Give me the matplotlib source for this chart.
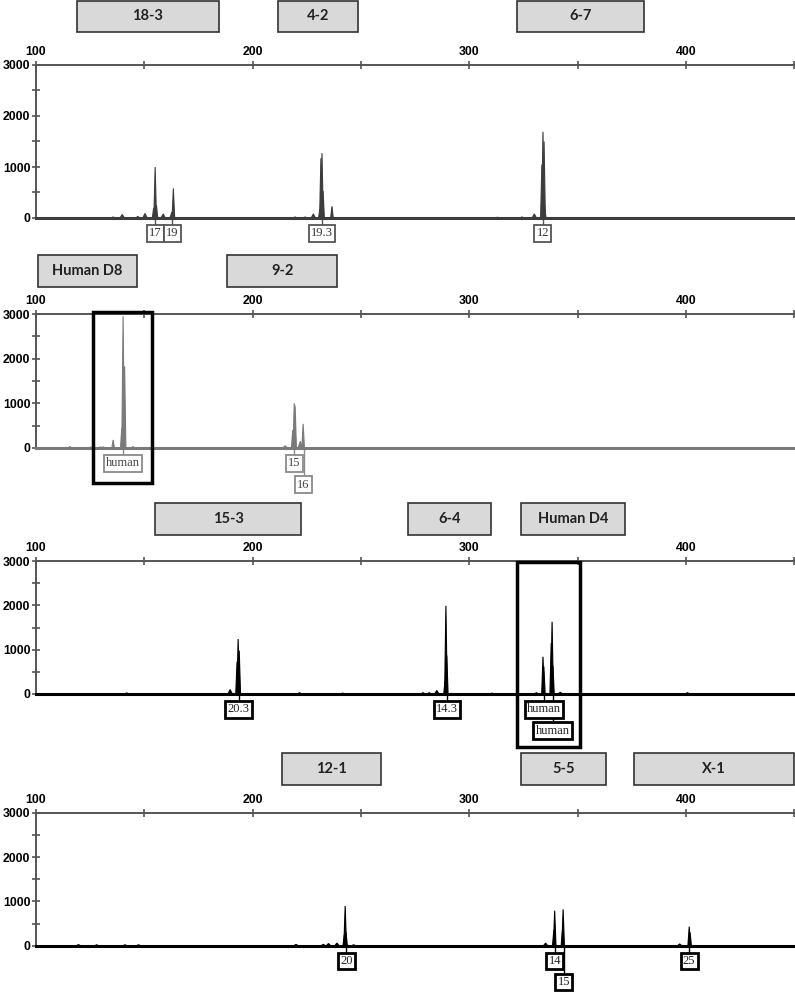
import matplotlib
matplotlib.use('Agg')
import matplotlib.pyplot as plt
import matplotlib.patches as patches
import matplotlib.transforms as mtransforms

plt.rcParams['font.family'] = ['Liberation Sans', 'DejaVu Sans']

# ---- data (size in bp, height in RFU) ----
# panel 1
p1_pos = [135.6, 139.8, 147.0, 150.3, 154.3, 155.0, 155.6, 158.7, 162.8, 163.4,
          219.6, 224.2, 228.0, 231.0, 231.5, 232.0, 232.5, 236.6,
          313.0, 324.3, 330.0, 333.5, 334.0, 334.5, 334.8]
p1_h = [20, 70, 30, 90, 200, 1000, 250, 80, 120, 580,
        20, 20, 80, 170, 1170, 1270, 530, 230,
        15, 20, 80, 1050, 1690, 1500, 220]
# panel 2
p2_pos = [115.7, 125.3, 129.6, 131.0, 135.6, 139.6, 140.2, 140.9, 144.7,
          215.0, 218.5, 219.2, 219.6, 222.0, 223.3]
p2_h = [30, 20, 25, 25, 180, 450, 2950, 1830, 30,
        50, 400, 1000, 950, 150, 540]
# panel 3
p3_pos = [141.9, 189.6, 192.8, 193.3, 193.8, 221.6, 241.6,
          278.6, 281.5, 285.0, 288.8, 289.2, 289.6, 310.5,
          331.0, 334.0, 334.4, 337.8, 338.2, 338.6, 342.0, 400.7]
p3_h = [25, 100, 730, 1240, 980, 30, 20,
        30, 30, 80, 300, 1990, 870, 20,
        30, 840, 620, 1150, 1630, 640, 40, 30]
# panel 4
p4_pos = [119.6, 128.0, 141.1, 147.3, 220.0, 232.6, 235.0, 238.9, 242.3, 242.7, 243.1, 246.6,
          335.2, 339.0, 339.4, 343.0, 343.3, 397.1, 401.5, 401.9]
p4_h = [25, 20, 20, 20, 30, 30, 50, 60, 250, 895, 300, 20,
        60, 350, 790, 350, 820, 40, 430, 300]

# locus bins (name, start bp, end bp)
p1_loci = [('18-3', 118.9, 184.5), ('4-2', 211.8, 248.8), ('6-7', 322.2, 380.4)]
p2_loci = [('Human D8', 100.9, 146.6), ('9-2', 188.2, 239.0)]
p3_loci = [('15-3', 155.0, 222.4), ('6-4', 271.8, 310.2), ('Human D4', 324.0, 372.0)]
p4_loci = [('12-1', 213.6, 259.4), ('5-5', 324.0, 363.3), ('X-1', 375.8, 449.7)]

# allele calls (label, bp, row)
p1_calls = [('17', 155.0, 0), ('19', 163.0, 0), ('19.3', 232.0, 0), ('12', 334.0, 0)]
p2_calls = [('human', 140.2, 0), ('15', 219.1, 0), ('16', 223.5, 1)]
p3_calls = [('20.3', 193.5, 0), ('14.3', 289.7, 0), ('human', 334.5, 0), ('human', 338.4, 1)]
p4_calls = [('20', 243.3, 0), ('14', 339.5, 0), ('15', 343.6, 1), ('25', 401.4, 0)]

W, H = 795, 992
fig = plt.figure(figsize=(W / 100, H / 100), dpi=100)

X0, X1 = 36, 794.3  # pixel x of 100 and 450 bp

# panel layout: (top px, zero px, locus box top, locus box bottom)
panels = [
    (p1_pos, p1_h, p1_loci, p1_calls, 65, 218, 1, 32, '#3c3c3c', '#555555', '#333333', 1.3),
    (p2_pos, p2_h, p2_loci, p2_calls, 314, 448, 255, 287, '#7a7a7a', '#8a8a8a', '#444444', 1.3),
    (p3_pos, p3_h, p3_loci, p3_calls, 561, 694, 503, 535, '#000000', '#000000', '#222222', 2.0),
    (p4_pos, p4_h, p4_loci, p4_calls, 812.7, 945.7, 753, 785, '#000000', '#000000', '#222222', 2.0),
]

for pos, hts, loci, calls, top, zero, lb_top, lb_bot, col, ecol, tcol, elw in panels:
    ax = fig.add_axes([X0 / W, 1 - zero / H, (X1 - X0) / W, (zero - top) / H])
    ax.set_xlim(100, 450)
    ax.set_ylim(0, 3000)
    for s in ['right', 'bottom']:
        ax.spines[s].set_visible(False)
    for s in ['top', 'left']:
        ax.spines[s].set_color('#555555')
        ax.spines[s].set_linewidth(1.4)
    ax.xaxis.tick_top()
    ax.set_xticks([100, 200, 300, 400])
    ax.set_xticks([150, 250, 350, 450], minor=True)
    ax.set_yticks([0, 1000, 2000, 3000])
    ax.set_yticks([500, 1500, 2500], minor=True)
    ax.tick_params(which='both', direction='inout', length=6, width=1.2, color='#555555')
    ax.tick_params(axis='x', labelsize=8.8, pad=2)
    ax.tick_params(axis='y', labelsize=8.8, pad=1)
    for lab in ax.get_xticklabels() + ax.get_yticklabels():
        lab.set_fontweight('bold')

    # trace: baseline + peaks
    ax.axhline(0, color=col, lw=2.2, zorder=3, clip_on=False)
    for p, h in zip(pos, hts):
        hw = 0.6 if h > 150 else 1.0
        ax.fill([p - hw, p, p + hw], [0, h, 0], color=col, lw=0.8, ec=col,
                zorder=4, clip_on=False)

    # blended transform: x in bp, y in figure pixels
    tr = mtransforms.blended_transform_factory(ax.transData, fig.transFigure)

    def fy(py):
        return 1 - py / H

    for name, a, b in loci:
        r = patches.Rectangle((a, fy(lb_bot)), b - a, (lb_bot - lb_top) / H,
                              transform=tr, fc='#d9d9d9', ec='#333333', lw=1.2,
                              clip_on=False, zorder=5)
        ax.add_patch(r)
        ax.text((a + b) / 2, fy((lb_top + lb_bot) / 2), name, transform=tr,
                ha='center', va='center', fontsize=10.5, fontweight='bold',
                family=['Lato', 'DejaVu Sans'], color='#222222', zorder=6, clip_on=False)

    for lab, x, row in calls:
        yc = zero + 15.5 + row * 21
        ax.plot([x, x], [fy(zero), fy(yc - 9)], transform=tr, color=ecol, lw=1,
                clip_on=False, zorder=2)
        ax.text(x, fy(yc), lab, transform=tr, ha='center', va='center',
                fontsize=9, family=['Liberation Serif', 'DejaVu Serif'], color=tcol,
                zorder=7 + row, clip_on=False,
                bbox=dict(boxstyle='square,pad=0.18', fc='white', ec=ecol, lw=elw))

# highlight boxes around the human loci (figure pixels)
for x0, y0, x1, y1 in [(93, 312, 152, 483), (517, 562, 580, 747)]:
    fig.patches.append(patches.Rectangle((x0 / W, 1 - y1 / H), (x1 - x0) / W, (y1 - y0) / H,
                                         transform=fig.transFigure, fill=False,
                                         ec='black', lw=2.5, zorder=10))

fig.savefig('out.png', dpi=100)
